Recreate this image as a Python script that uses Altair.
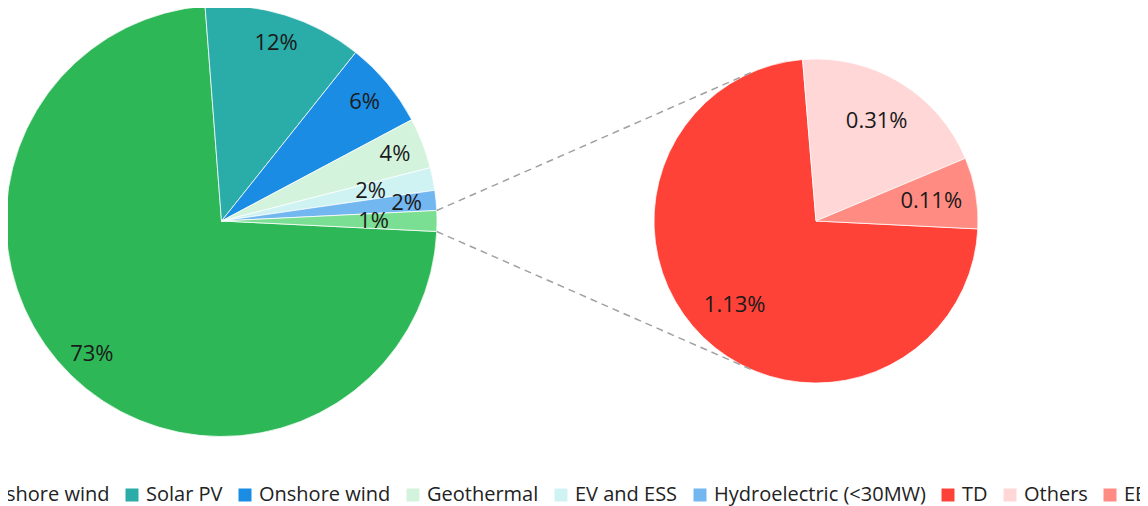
import math
import altair as alt
import pandas as pd

# ---- data ----
main_cats = ["Offshore wind", "Solar PV", "Onshore wind", "Geothermal",
             "EV and ESS", "Hydroelectric (<30MW)", "Other"]
main_vals = [72.9, 11.9, 6.5, 3.8, 1.7, 1.5]
main_labels = ["73%", "12%", "6%", "4%", "2%", "2%", "1%"]

sub_cats = ["TD", "Others", "EE"]
sub_vals = [1.13, 0.31, 0.11]
sub_labels = ["1.13%", "0.31%", "0.11%"]

colors = {
    "Offshore wind": "#2db757",
    "Solar PV": "#2aaca8",
    "Onshore wind": "#1a8ce3",
    "Geothermal": "#d3f3dd",
    "EV and ESS": "#cff3f3",
    "Hydroelectric (<30MW)": "#73b7f1",
    "Other": "#7bdf93",
    "TD": "#ff4238",
    "Others": "#ffd7d7",
    "EE": "#ff8b82",
}
legend_cats = main_cats[:-1] + sub_cats

# ---- derived tables ----
other_total = sum(sub_vals)
mvals = main_vals + [other_total]


def table(cats, vals, labels):
    tot = sum(vals)
    rows, acc = [], 0.0
    for c, v, l in zip(cats, vals, labels):
        f = v / tot
        rows.append({"cat": c, "value": v, "label": l,
                     "start": acc, "end": acc + f, "mid": acc + f / 2})
        acc += f
    return pd.DataFrame(rows)


main_df = table(main_cats, mvals, main_labels)
sub_df = table(sub_cats, sub_vals, sub_labels)

# ---- layout ----
W, H = 1132, 498
cx1, cy1, r1 = 213.5, 213.0, 215.5
cx2, cy2, r2 = 808.0, 213.0, 162.0

other_frac = other_total / sum(mvals)
start = math.pi / 2 + math.pi * other_frac
theta_scale = alt.Scale(domain=[0, 1], range=[start, start + 2 * math.pi])
color_scale = alt.Scale(domain=list(colors.keys()), range=list(colors.values()))
legend = alt.Legend(
    values=legend_cats, orient="none", direction="horizontal",
    legendX=-55, legendY=477, title=None,
    symbolType="square", symbolSize=169, symbolStrokeWidth=0,
    labelFont="Open Sans", labelFontSize=20, labelColor="#222222",
    labelOffset=4, columnPadding=12, labelLimit=400,
)

main_arc = alt.Chart(main_df).mark_arc(radius=r1, stroke="white", strokeWidth=0.75).encode(
    theta=alt.Theta("start:Q", scale=theta_scale),
    theta2="end:Q",
    color=alt.Color("cat:N", scale=color_scale, legend=legend),
    x=alt.value(cx1), y=alt.value(cy1),
)
sub_arc = alt.Chart(sub_df).mark_arc(radius=r2, stroke="white", strokeWidth=0.75).encode(
    theta=alt.Theta("start:Q", scale=theta_scale),
    theta2="end:Q",
    color=alt.Color("cat:N", scale=color_scale, legend=legend),
    x=alt.value(cx2), y=alt.value(cy2),
)

txt = dict(font="Open Sans", fontSize=22, color="#1a1a1a", align="center", baseline="middle")
inner = ["EV and ESS", "Other"]
main_txt = alt.Chart(main_df).transform_filter(
    ~alt.FieldOneOfPredicate(field="cat", oneOf=inner)
).mark_text(radius=186, **txt).encode(
    theta=alt.Theta("mid:Q", scale=theta_scale), text="label:N",
    x=alt.value(cx1), y=alt.value(cy1),
)
main_txt2 = alt.Chart(main_df).transform_filter(
    alt.FieldOneOfPredicate(field="cat", oneOf=inner)
).mark_text(radius=152, **txt).encode(
    theta=alt.Theta("mid:Q", scale=theta_scale), text="label:N",
    x=alt.value(cx1), y=alt.value(cy1),
)
sub_txt = alt.Chart(sub_df).mark_text(radius=117, **txt).encode(
    theta=alt.Theta("mid:Q", scale=theta_scale), text="label:N",
    x=alt.value(cx2), y=alt.value(cy2),
)

# ---- connector lines (tangents from "Other" slice edges to the second pie) ----
def clock_pt(cx, cy, r, a):
    return cx + r * math.sin(a), cy - r * math.cos(a)


def tangent(px, py, upper):
    dx, dy = px - cx2, py - cy2
    d = math.hypot(dx, dy)
    phi = math.atan2(dy, dx)
    t = math.acos(r2 / d)
    cands = [(cx2 + r2 * math.cos(phi + s * t), cy2 + r2 * math.sin(phi + s * t)) for s in (1, -1)]
    return min(cands, key=lambda p: p[1]) if upper else max(cands, key=lambda p: p[1])


a_top = start - 2 * math.pi * other_frac
p_top = clock_pt(cx1, cy1, r1, a_top)
p_bot = clock_pt(cx1, cy1, r1, start)
q_top = tangent(*p_top, upper=True)
q_bot = tangent(*p_bot, upper=False)

def rule(p, q):
    return alt.Chart(pd.DataFrame({"k": [0]})).mark_rule(
        color="#a0a0a0", strokeWidth=1.5, strokeDash=[7, 5]
    ).encode(x=alt.value(p[0]), y=alt.value(p[1]), x2=alt.value(q[0]), y2=alt.value(q[1]))

chart = alt.layer(
    main_arc, sub_arc, rule(p_top, q_top), rule(p_bot, q_bot),
    main_txt, main_txt2, sub_txt,
).properties(
    width=W, height=H, padding=0,
    autosize=alt.AutoSizeParams(type="none"),
).configure_view(stroke=None)

chart.save("out.html", embed_options={"renderer": "svg", "actions": False})
